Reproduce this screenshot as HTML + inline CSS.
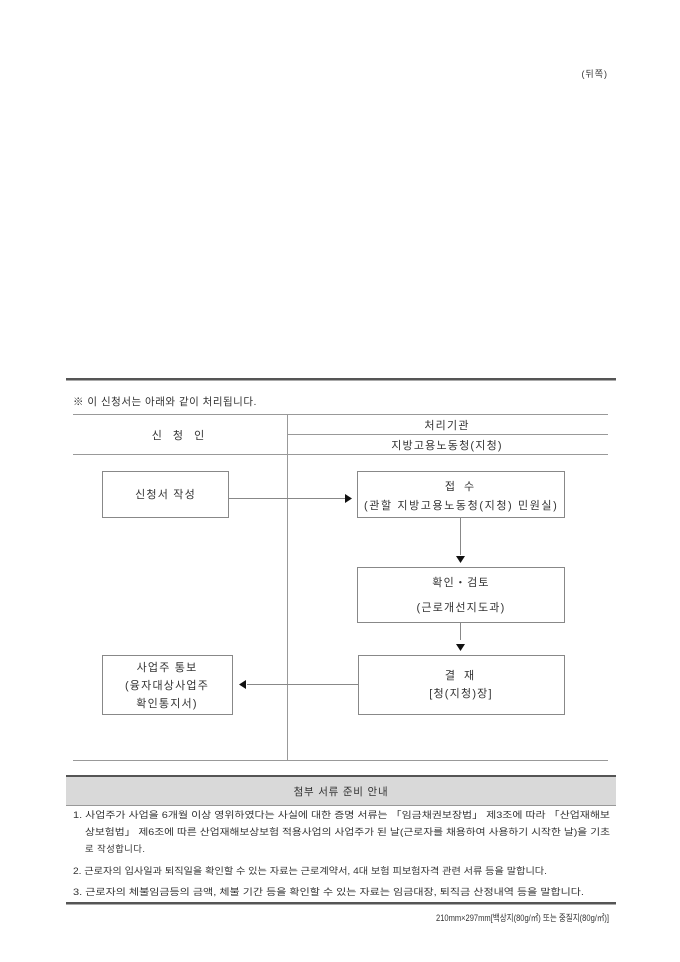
<!DOCTYPE html>
<html><head><meta charset="utf-8"><style>
html,body{margin:0;padding:0;background:#fff;}
svg{display:block;}
text{font-family:"Liberation Sans","Noto Sans CJK KR",sans-serif;fill:#333;}
</style></head><body>
<svg width="680" height="962" viewBox="0 0 680 962" xmlns="http://www.w3.org/2000/svg">
<text x="608" y="77" font-size="9" text-anchor="end" letter-spacing="1">(뒤쪽)</text>
<rect x="66" y="378" width="550" height="2.5" fill="#555"/>
<text x="73" y="405" font-size="10.5" letter-spacing="0.5">※ 이 신청서는 아래와 같이 처리됩니다.</text>
<g stroke="#999" stroke-width="1" fill="none">
<line x1="73" y1="414.5" x2="608" y2="414.5"/>
<line x1="287" y1="434.5" x2="608" y2="434.5"/>
<line x1="73" y1="454.5" x2="608" y2="454.5"/>
<line x1="73" y1="760.5" x2="608" y2="760.5"/>
<line x1="287.5" y1="414" x2="287.5" y2="760"/>
</g>
<g font-size="11" text-anchor="middle" letter-spacing="1.2">
<text x="180" y="439" letter-spacing="4">신 청 인</text>
<text x="447" y="429">처리기관</text>
<text x="447" y="449">지방고용노동청(지청)</text>
</g>
<g stroke="#888" stroke-width="1" fill="#fff">
<rect x="102.5" y="471.5" width="126" height="46"/>
<rect x="357.5" y="471.5" width="207" height="46"/>
<rect x="357.5" y="567.5" width="207" height="55"/>
<rect x="358.5" y="655.5" width="206" height="59"/>
<rect x="102.5" y="655.5" width="130" height="59"/>
</g>
<g stroke="#888" stroke-width="1">
<line x1="229" y1="498.5" x2="345" y2="498.5"/>
<line x1="460.5" y1="518" x2="460.5" y2="555"/>
<line x1="460.5" y1="623" x2="460.5" y2="640"/>
<line x1="247" y1="684.5" x2="358" y2="684.5"/>
</g>
<g fill="#111">
<polygon points="345,494 352,498.5 345,503"/>
<polygon points="456,556 465,556 460.5,563"/>
<polygon points="456,644 465,644 460.5,651"/>
<polygon points="246,680 246,689 239,684.5"/>
</g>
<g font-size="11" text-anchor="middle" letter-spacing="1.2">
<text x="165.5" y="498">신청서 작성</text>
<text x="461" y="490" letter-spacing="3">접 수</text>
<text x="461" y="509" textLength="194" lengthAdjust="spacing">(관할 지방고용노동청(지청) 민원실)</text>
<text x="461" y="586">확인・검토</text>
<text x="461" y="611">(근로개선지도과)</text>
<text x="461" y="679" letter-spacing="3">결 재</text>
<text x="461" y="697">[청(지청)장]</text>
<text x="167" y="671">사업주 통보</text>
<text x="167" y="689">(융자대상사업주</text>
<text x="167" y="707">확인통지서)</text>
</g>
<rect x="66" y="776" width="550" height="29" fill="#d9d9d9"/>
<rect x="66" y="775" width="550" height="2" fill="#555"/>
<line x1="66" y1="805.5" x2="616" y2="805.5" stroke="#999"/>
<text x="341" y="795" font-size="10.5" text-anchor="middle" letter-spacing="0.8">첨부 서류 준비 안내</text>
<g font-size="9.3">
<text x="73" y="818" textLength="537" lengthAdjust="spacingAndGlyphs">1. 사업주가 사업을 6개월 이상 영위하였다는 사실에 대한 증명 서류는 「임금채권보장법」 제3조에 따라 「산업재해보</text>
<text x="85" y="835" textLength="525" lengthAdjust="spacingAndGlyphs">상보험법」 제6조에 따른 산업재해보상보험 적용사업의 사업주가 된 날(근로자를 채용하여 사용하기 시작한 날)을 기초</text>
<text x="85" y="852" letter-spacing="0.5">로 작성합니다.</text>
<text x="73" y="874" textLength="474" lengthAdjust="spacingAndGlyphs">2. 근로자의 입사일과 퇴직일을 확인할 수 있는 자료는 근로계약서, 4대 보험 피보험자격 관련 서류 등을 말합니다.</text>
<text x="73" y="895" textLength="511" lengthAdjust="spacingAndGlyphs">3. 근로자의 체불임금등의 금액, 체불 기간 등을 확인할 수 있는 자료는 임금대장, 퇴직금 산정내역 등을 말합니다.</text>
</g>
<rect x="66" y="902" width="550" height="2.5" fill="#555"/>
<text x="609" y="921" font-size="9" text-anchor="end" textLength="173" lengthAdjust="spacingAndGlyphs">210mm×297mm[백상지(80g/㎡) 또는 중질지(80g/㎡)]</text>
</svg>
</body></html>
